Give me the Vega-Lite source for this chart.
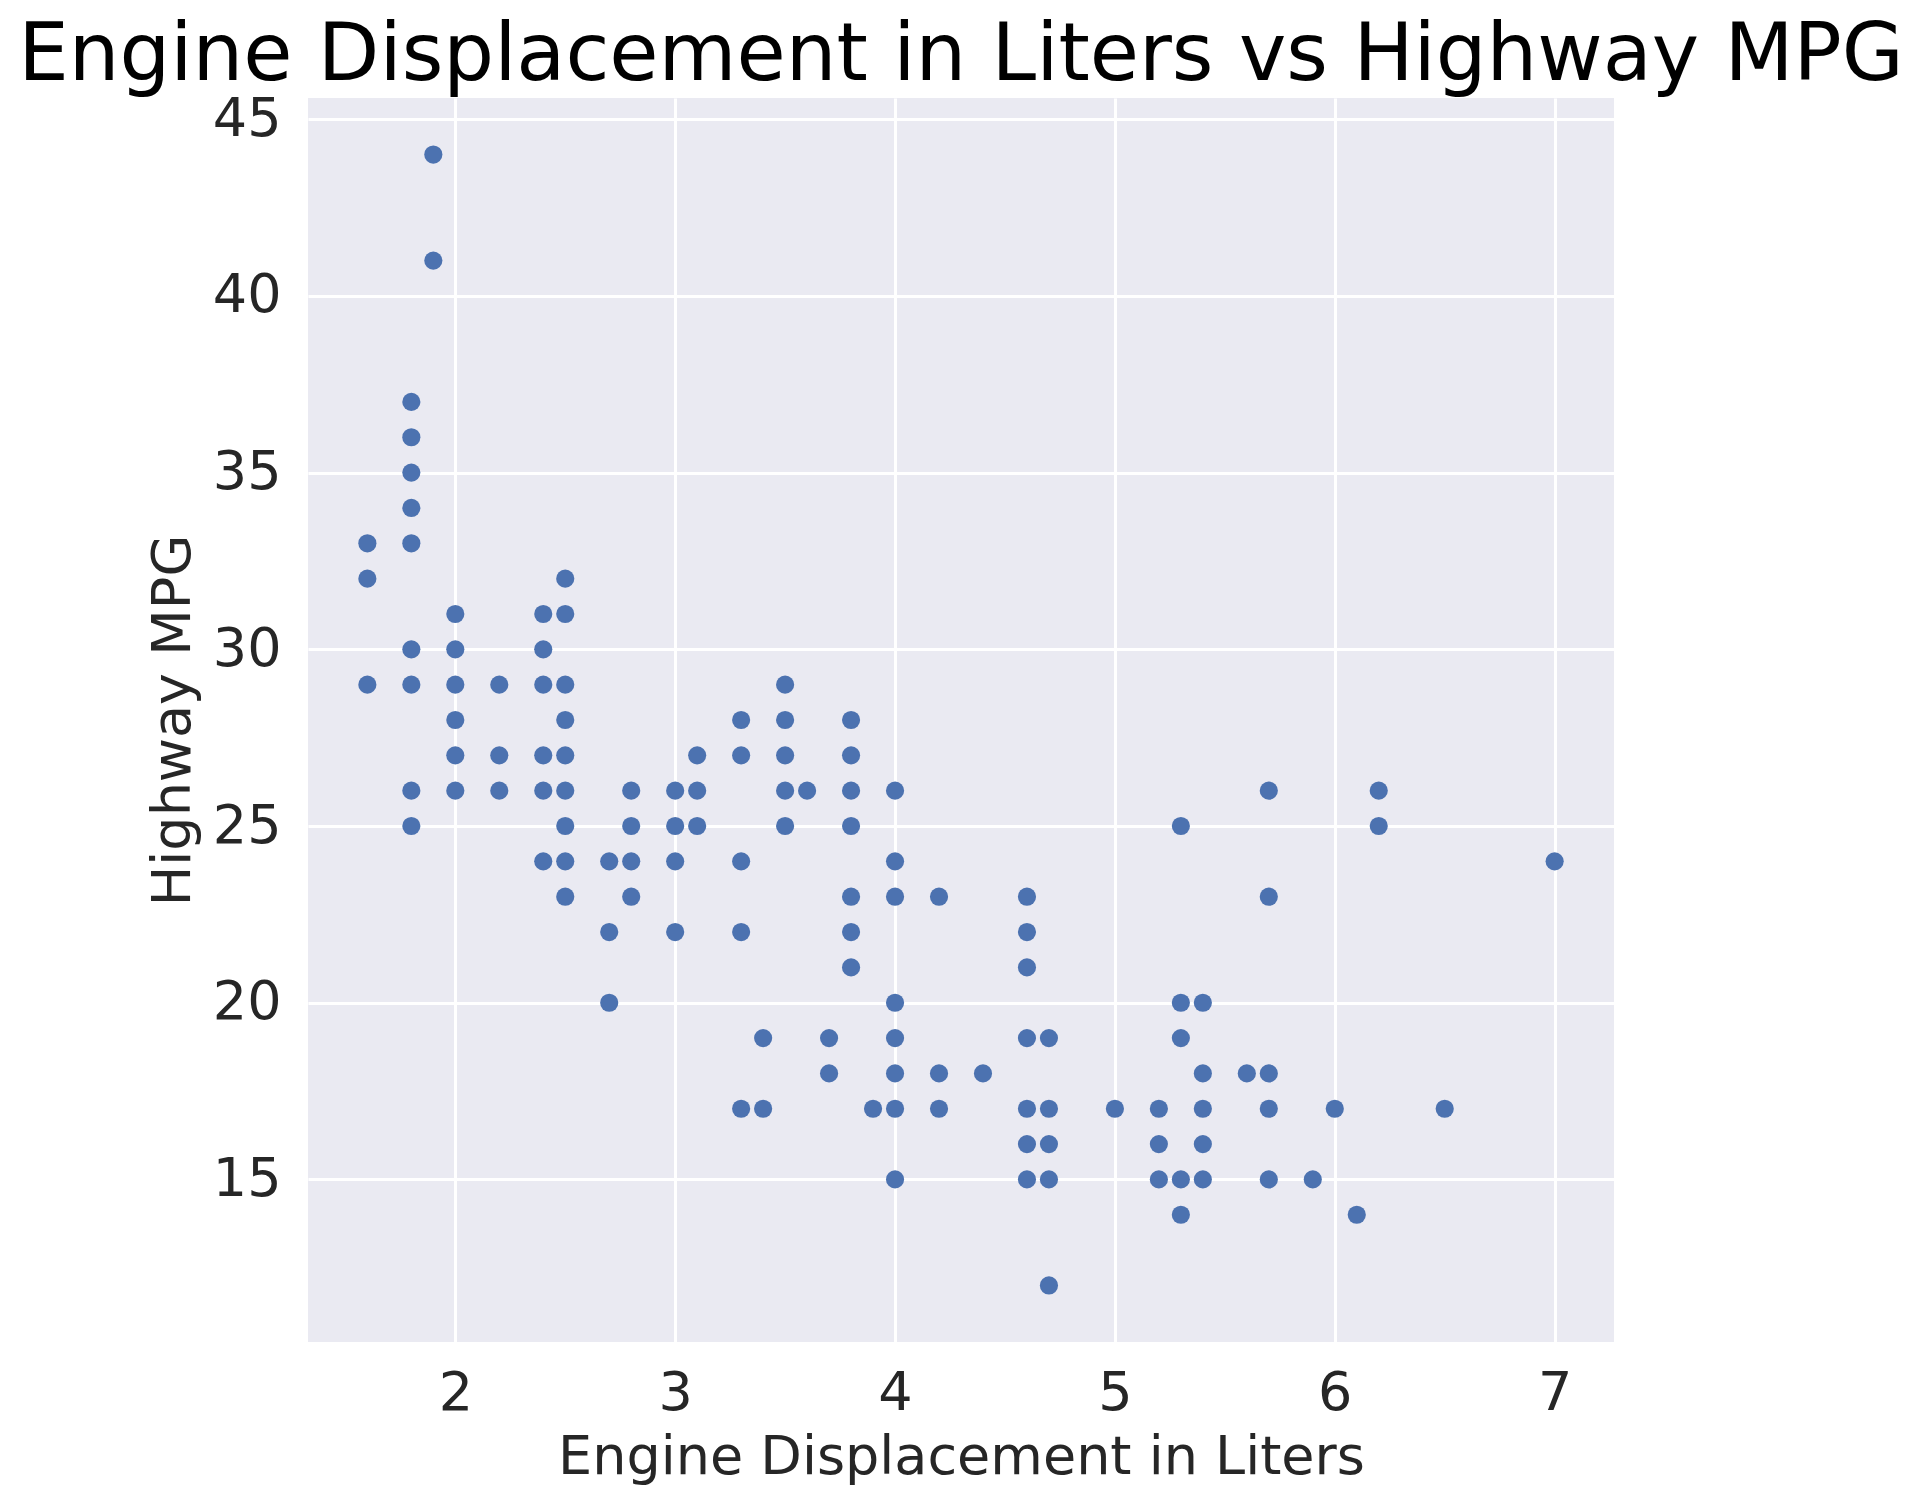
{
  "$schema": "https://vega.github.io/schema/vega-lite/v6.json",
  "description": "Engine displacement vs highway MPG scatter",
  "autosize": "none",
  "width": 1306,
  "height": 1244,
  "padding": {"left": 308, "top": 98, "right": 307, "bottom": 163},
  "background": "white",
  "view": {"fill": "#EAEAF2", "stroke": null},
  "title": {
    "text": "Engine Displacement in Liters vs Highway MPG",
    "font": "DejaVu Sans",
    "fontSize": 80,
    "fontWeight": "normal",
    "color": "#000000",
    "anchor": "middle",
    "frame": "group",
    "baseline": "alphabetic",
    "offset": 0,
    "dy": 68
  },
  "data": {
    "values": [
      {"displ": 1.6, "hwy": 33}, {"displ": 1.6, "hwy": 32}, {"displ": 1.6, "hwy": 29},
      {"displ": 1.8, "hwy": 37}, {"displ": 1.8, "hwy": 36}, {"displ": 1.8, "hwy": 35},
      {"displ": 1.8, "hwy": 34}, {"displ": 1.8, "hwy": 33}, {"displ": 1.8, "hwy": 30},
      {"displ": 1.8, "hwy": 29}, {"displ": 1.8, "hwy": 26}, {"displ": 1.8, "hwy": 25},
      {"displ": 1.9, "hwy": 44}, {"displ": 1.9, "hwy": 41},
      {"displ": 2.0, "hwy": 31}, {"displ": 2.0, "hwy": 30}, {"displ": 2.0, "hwy": 29},
      {"displ": 2.0, "hwy": 28}, {"displ": 2.0, "hwy": 27}, {"displ": 2.0, "hwy": 26},
      {"displ": 2.2, "hwy": 29}, {"displ": 2.2, "hwy": 27}, {"displ": 2.2, "hwy": 26},
      {"displ": 2.4, "hwy": 31}, {"displ": 2.4, "hwy": 30}, {"displ": 2.4, "hwy": 29},
      {"displ": 2.4, "hwy": 27}, {"displ": 2.4, "hwy": 26}, {"displ": 2.4, "hwy": 24},
      {"displ": 2.5, "hwy": 32}, {"displ": 2.5, "hwy": 31}, {"displ": 2.5, "hwy": 29},
      {"displ": 2.5, "hwy": 28}, {"displ": 2.5, "hwy": 27}, {"displ": 2.5, "hwy": 26},
      {"displ": 2.5, "hwy": 25}, {"displ": 2.5, "hwy": 24}, {"displ": 2.5, "hwy": 23},
      {"displ": 2.7, "hwy": 24}, {"displ": 2.7, "hwy": 22}, {"displ": 2.7, "hwy": 20},
      {"displ": 2.8, "hwy": 26}, {"displ": 2.8, "hwy": 25}, {"displ": 2.8, "hwy": 24},
      {"displ": 2.8, "hwy": 23},
      {"displ": 3.0, "hwy": 26}, {"displ": 3.0, "hwy": 25}, {"displ": 3.0, "hwy": 24},
      {"displ": 3.0, "hwy": 22},
      {"displ": 3.1, "hwy": 27}, {"displ": 3.1, "hwy": 26}, {"displ": 3.1, "hwy": 25},
      {"displ": 3.3, "hwy": 28}, {"displ": 3.3, "hwy": 27}, {"displ": 3.3, "hwy": 24},
      {"displ": 3.3, "hwy": 22}, {"displ": 3.3, "hwy": 17},
      {"displ": 3.4, "hwy": 19}, {"displ": 3.4, "hwy": 17},
      {"displ": 3.5, "hwy": 29}, {"displ": 3.5, "hwy": 28}, {"displ": 3.5, "hwy": 27},
      {"displ": 3.5, "hwy": 26}, {"displ": 3.5, "hwy": 25},
      {"displ": 3.6, "hwy": 26},
      {"displ": 3.7, "hwy": 19}, {"displ": 3.7, "hwy": 18},
      {"displ": 3.8, "hwy": 28}, {"displ": 3.8, "hwy": 27}, {"displ": 3.8, "hwy": 26},
      {"displ": 3.8, "hwy": 25}, {"displ": 3.8, "hwy": 23}, {"displ": 3.8, "hwy": 22},
      {"displ": 3.8, "hwy": 21},
      {"displ": 3.9, "hwy": 17},
      {"displ": 4.0, "hwy": 26}, {"displ": 4.0, "hwy": 24}, {"displ": 4.0, "hwy": 23},
      {"displ": 4.0, "hwy": 20}, {"displ": 4.0, "hwy": 19}, {"displ": 4.0, "hwy": 18},
      {"displ": 4.0, "hwy": 17}, {"displ": 4.0, "hwy": 15},
      {"displ": 4.2, "hwy": 23}, {"displ": 4.2, "hwy": 18}, {"displ": 4.2, "hwy": 17},
      {"displ": 4.4, "hwy": 18},
      {"displ": 4.6, "hwy": 23}, {"displ": 4.6, "hwy": 22}, {"displ": 4.6, "hwy": 21},
      {"displ": 4.6, "hwy": 19}, {"displ": 4.6, "hwy": 17}, {"displ": 4.6, "hwy": 16},
      {"displ": 4.6, "hwy": 15},
      {"displ": 4.7, "hwy": 19}, {"displ": 4.7, "hwy": 17}, {"displ": 4.7, "hwy": 16},
      {"displ": 4.7, "hwy": 15}, {"displ": 4.7, "hwy": 12},
      {"displ": 5.0, "hwy": 17},
      {"displ": 5.2, "hwy": 17}, {"displ": 5.2, "hwy": 16}, {"displ": 5.2, "hwy": 15},
      {"displ": 5.3, "hwy": 25}, {"displ": 5.3, "hwy": 20}, {"displ": 5.3, "hwy": 19},
      {"displ": 5.3, "hwy": 15}, {"displ": 5.3, "hwy": 14},
      {"displ": 5.4, "hwy": 20}, {"displ": 5.4, "hwy": 18}, {"displ": 5.4, "hwy": 17},
      {"displ": 5.4, "hwy": 16}, {"displ": 5.4, "hwy": 15},
      {"displ": 5.6, "hwy": 18},
      {"displ": 5.7, "hwy": 26}, {"displ": 5.7, "hwy": 23}, {"displ": 5.7, "hwy": 18},
      {"displ": 5.7, "hwy": 17}, {"displ": 5.7, "hwy": 15},
      {"displ": 5.9, "hwy": 15},
      {"displ": 6.0, "hwy": 17},
      {"displ": 6.1, "hwy": 14},
      {"displ": 6.2, "hwy": 26}, {"displ": 6.2, "hwy": 25},
      {"displ": 6.5, "hwy": 17},
      {"displ": 7.0, "hwy": 24}
    ]
  },
  "mark": {"type": "circle", "size": 330, "color": "#4C72B0", "opacity": 1},
  "encoding": {
    "x": {
      "field": "displ",
      "type": "quantitative",
      "title": "Engine Displacement in Liters",
      "scale": {"domain": [1.33, 7.27], "nice": false, "zero": false},
      "axis": {"values": [2, 3, 4, 5, 6, 7], "labelPadding": 24, "titlePadding": 10}
    },
    "y": {
      "field": "hwy",
      "type": "quantitative",
      "title": "Highway MPG",
      "scale": {"domain": [10.4, 45.6], "nice": false, "zero": false},
      "axis": {"values": [15, 20, 25, 30, 35, 40, 45], "labelPadding": 27, "titlePadding": 12}
    }
  },
  "config": {
    "font": "DejaVu Sans",
    "axis": {
      "domain": false,
      "ticks": false,
      "grid": true,
      "gridColor": "#FFFFFF",
      "gridWidth": 3,
      "gridOpacity": 1,
      "labelFont": "DejaVu Sans",
      "labelFontSize": 54,
      "labelColor": "#262626",
      "titleFont": "DejaVu Sans",
      "titleFontSize": 54,
      "titleFontWeight": "normal",
      "titleColor": "#262626"
    }
  }
}
